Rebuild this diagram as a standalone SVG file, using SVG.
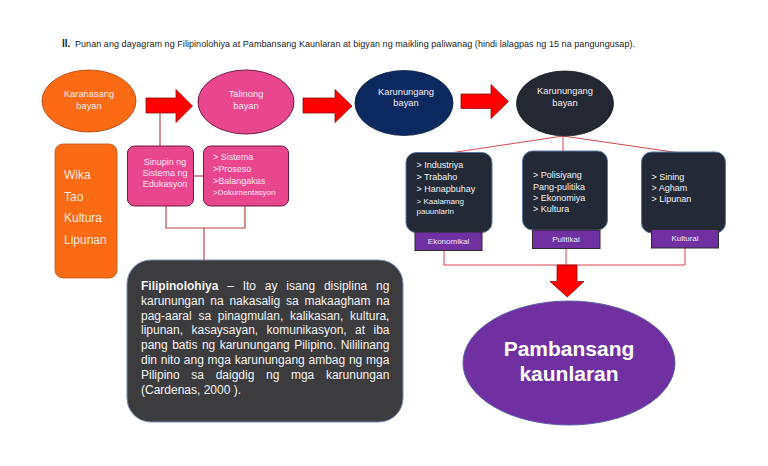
<svg xmlns="http://www.w3.org/2000/svg" width="768" height="466" viewBox="0 0 768 466">
<style>
text{font-family:"Liberation Sans",Arial,sans-serif}
.title{font-size:9px;fill:#222}
.ell{font-size:9.3px;fill:#F4EEF0;text-anchor:middle}
.arrow{fill:#FF0000;stroke:#8B1010;stroke-width:0.8}
.conL{stroke:#B8474B;stroke-width:1.2;fill:none}
.conR{stroke:#D2454A;stroke-width:1;fill:none}
.pinkbox{fill:#E8478E;stroke:#6E1F42;stroke-width:1}
.pinktxt{font-size:9px;fill:#FCE6F0}
.darkbox{fill:#232A36;stroke:#5C78A6;stroke-width:1}
.darktxt{font-size:9px;fill:#F2F2F2}
.small{font-size:8px}
.label{fill:#7030A0;stroke:#2B2B2B;stroke-width:1}
.labtxt{font-size:8px;fill:#F2E8F7;text-anchor:middle}
.para{font-size:12px;fill:#F2F2F2}
</style>

<text class="title" x="62" y="47"><tspan font-weight="bold" font-size="10">II.</tspan></text>
<text class="title" x="75" y="47" textLength="560" lengthAdjust="spacing">Punan ang dayagram ng Filipinolohiya at Pambansang Kaunlaran at bigyan ng maikling paliwanag (hindi lalagpas ng 15 na pangungusap).</text>

<g id="connectors">
  <polyline class="conL" points="160,113 160,146"/>
  <line class="conL" x1="193" y1="176" x2="203" y2="176"/>
  <polyline class="conL" points="166,206 166,228 245,228 245,206"/>
  <line class="conL" x1="204" y1="228" x2="204" y2="260"/>
  <line class="conR" x1="563" y1="135" x2="563" y2="151"/>
  <line class="conR" x1="563" y1="136" x2="450" y2="153"/>
  <line class="conR" x1="563" y1="136" x2="680" y2="153"/>
  <polyline class="conR" points="444,250 444,265 685,265 685,248"/>
  <line class="conR" x1="566" y1="249" x2="566" y2="265"/>
  <polygon class="arrow" points="146,98 176,98 176,89.5 192.5,106 176,122.5 176,113 146,113"/>
  <polygon class="arrow" points="303,98 335,98 335,89.5 352,106 335,122.5 335,113 303,113"/>
  <polygon class="arrow" points="461,94 491,94 491,84.5 508.5,101.5 491,118.5 491,108.5 461,108.5"/>
  <polygon class="arrow" points="557,265 577,265 577,281.5 584,281.5 567.3,297 550,281.5 557,281.5"/>
</g>

<g id="karanasang">
  <ellipse cx="89" cy="101" rx="47" ry="31" fill="#FB6A14" stroke="#A84410" stroke-width="0.8"/>
  <text class="ell" x="89" y="97">Karanasang</text>
  <text class="ell" x="89" y="108.5">bayan</text>
</g>

<g id="talinong">
  <ellipse cx="246" cy="102" rx="48" ry="32" fill="#E8478E" stroke="#6E1F42" stroke-width="1"/>
  <text class="ell" x="246" y="97">Talinong</text>
  <text class="ell" x="246" y="108.5">bayan</text>
</g>

<g id="karunungang1">
  <ellipse cx="404" cy="103" rx="49" ry="32.5" fill="#0D2A60" stroke="#0A1D44" stroke-width="0.8"/>
  <text class="ell" x="406" y="95">Karunungang</text>
  <text class="ell" x="406" y="105.5">bayan</text>
</g>

<g id="karunungang2">
  <ellipse cx="565" cy="103.5" rx="48.5" ry="32.5" fill="#232833" stroke="#171B22" stroke-width="0.8"/>
  <text class="ell" x="565" y="94">Karunungang</text>
  <text class="ell" x="565" y="105.5">bayan</text>
</g>

<g id="wika">
  <rect x="55" y="144" width="62" height="134" rx="8" fill="#FB6A14" stroke="#C0550F" stroke-width="0.8"/>
  <text x="64" y="179" font-size="12" fill="#FBE9DD">Wika</text>
  <text x="64" y="201" font-size="12" fill="#FBE9DD">Tao</text>
  <text x="64" y="222" font-size="12" fill="#FBE9DD">Kultura</text>
  <text x="64" y="244" font-size="12" fill="#FBE9DD">Lipunan</text>
</g>

<g id="sinupin">
  <rect class="pinkbox" x="127.5" y="146" width="66" height="60" rx="7"/>
  <text class="pinktxt" x="165" y="165" text-anchor="middle">Sinupin ng</text>
  <text class="pinktxt" x="165" y="176" text-anchor="middle">Sistema ng</text>
  <text class="pinktxt" x="165" y="187" text-anchor="middle">Edukasyon</text>
</g>

<g id="sistema">
  <rect class="pinkbox" x="203.5" y="146" width="85" height="60" rx="7"/>
  <text class="pinktxt" x="213" y="160">&gt; Sistema</text>
  <text class="pinktxt" x="213" y="171.5">&gt;Proseso</text>
  <text class="pinktxt" x="213" y="184">&gt;Balangakas</text>
  <text class="pinktxt small" x="213" y="195">&gt;Dokumentasyon</text>
</g>

<g id="filipinolohiya">
  <rect x="127" y="260" width="276" height="162" rx="24" fill="#3C3C3E" stroke="#7D8FB0" stroke-width="1"/>
  <text class="para" x="141" y="290" word-spacing="5.5"><tspan font-weight="bold">Filipinolohiya</tspan> – Ito ay isang disiplina ng</text>
  <text class="para" x="141" y="304.8" word-spacing="2.5">karunungan na nakasalig sa makaagham na</text>
  <text class="para" x="141" y="319.6" word-spacing="3.4">pag-aaral sa pinagmulan, kalikasan, kultura,</text>
  <text class="para" x="141" y="334.4" word-spacing="5.1">lipunan, kasaysayan, komunikasyon, at iba</text>
  <text class="para" x="141" y="349.2" word-spacing="1.1">pang batis ng karunungang Pilipino. Nililinang</text>
  <text class="para" x="141" y="364" word-spacing="0.4">din nito ang mga karunungang ambag ng mga</text>
  <text class="para" x="141" y="378.8" word-spacing="8.3">Pilipino sa daigdig ng mga karunungan</text>
  <text class="para" x="141" y="393.6">(Cardenas, 2000 ).</text>
</g>

<g id="ekonomikal">
  <rect class="darkbox" x="406" y="152.5" width="86" height="80" rx="10"/>
  <text class="darktxt" x="416.5" y="168">&gt; Industriya</text>
  <text class="darktxt" x="416.5" y="180.3">&gt; Trabaho</text>
  <text class="darktxt" x="416.5" y="192">&gt; Hanapbuhay</text>
  <text class="darktxt small" x="416.5" y="203.5">&gt; Kaalamang</text>
  <text class="darktxt small" x="416.5" y="213.5">pauunlarin</text>
  <rect class="label" x="415" y="232" width="67" height="18.5"/>
  <text class="labtxt" x="448.5" y="244">Ekonomikal</text>
</g>

<g id="pulitikal">
  <rect class="darkbox" x="522.5" y="151" width="85" height="79" rx="10"/>
  <text class="darktxt" x="533" y="178">&gt; Polisiyang</text>
  <text class="darktxt" x="533" y="189.7">Pang-pulitika</text>
  <text class="darktxt" x="533" y="200.7">&gt; Ekonomiya</text>
  <text class="darktxt" x="533" y="212">&gt; Kultura</text>
  <rect class="label" x="532.5" y="230" width="67.5" height="18.5"/>
  <text class="labtxt" x="566" y="242">Pulitikal</text>
</g>

<g id="kultural">
  <rect class="darkbox" x="641.5" y="152" width="84" height="81" rx="10"/>
  <text class="darktxt" x="651.5" y="179.7">&gt; Sining</text>
  <text class="darktxt" x="651.5" y="191.3">&gt; Agham</text>
  <text class="darktxt" x="651.5" y="202.3">&gt; Lipunan</text>
  <rect class="label" x="651.5" y="229.5" width="67" height="18.5"/>
  <text class="labtxt" x="685" y="240.5">Kultural</text>
</g>

<g id="pambansang">
  <ellipse cx="569" cy="363" rx="106" ry="62" fill="#7030A0" stroke="#5A5FA8" stroke-width="1"/>
  <text x="569" y="356" font-size="21" font-weight="bold" fill="#FFFFFF" text-anchor="middle">Pambansang</text>
  <text x="569" y="381" font-size="21" font-weight="bold" fill="#FFFFFF" text-anchor="middle">kaunlaran</text>
</g>
</svg>
